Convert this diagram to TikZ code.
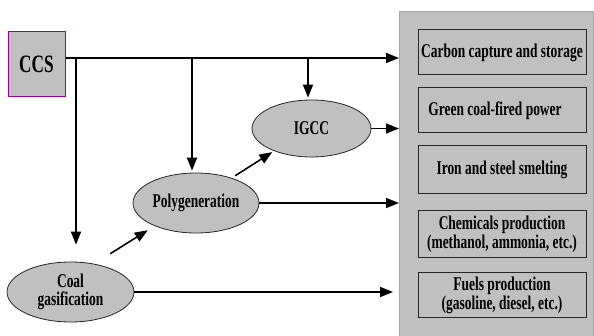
\documentclass[tikz,border=0pt]{standalone}
\usepackage{fontspec}
\newfontfamily\condfont{Liberation Serif}[FakeStretch=0.69]
\usetikzlibrary{shapes.geometric, arrows.meta, positioning}
\definecolor{panelgray}{HTML}{C0C0C0}
\definecolor{panelline}{HTML}{A4A4A4}
\definecolor{ccspurple}{HTML}{990099}
\tikzstyle{outcome} = [draw=black!85, fill=panelgray, rectangle, line width=1pt, minimum width=168pt, inner sep=0pt, align=center]
\tikzstyle{process} = [draw=black!85, fill=panelgray, ellipse, line width=0.8pt, inner sep=0pt, align=center]
\tikzstyle{flow} = [line width=1.6pt, -{Triangle[length=13pt,width=10pt]}]
\begin{document}
\begin{tikzpicture}[x=1pt, y=-1pt, font=\condfont\fontsize{19.5}{16}\selectfont\bfseries]
	\useasboundingbox (0,0) rectangle (594,336);
	% right-hand panel with the applications
	\node[draw=panelline, fill=panelgray, line width=0.8pt, minimum width=194pt, minimum height=330pt, inner sep=0pt, anchor=north west] (panel) at (399,11) {};
	\node[outcome, minimum height=45pt] (capture) at (502,52.5) {Carbon capture and storage};
	\node[outcome, minimum height=45pt] (power) at (502,110.5) {Green coal-fired power\hspace*{14pt}};
	\node[outcome, minimum height=48pt] (steel) at (502,170) {Iron and steel smelting};
	\node[outcome, minimum height=47pt] (chemicals) at (502,234.5) {Chemicals production\\(methanol, ammonia, etc.)};
	\node[outcome, minimum height=45pt] (fuels) at (502,295.5) {Fuels production\\(gasoline, diesel, etc.)};
	% technologies
	\node[draw=ccspurple, fill=panelgray, line width=1pt, minimum width=57pt, minimum height=65pt, inner sep=0pt, font=\condfont\fontsize{25}{25}\selectfont\bfseries] (ccs) at (36.5,64.5) {CCS};
	\node[process, minimum width=127pt, minimum height=60pt, font=\condfont\fontsize{19.5}{18}\selectfont\bfseries] (coal) at (70.5,292) {Coal\\gasification};
	\node[process, minimum width=126pt, minimum height=60pt] (poly) at (196,203) {Polygeneration};
	\node[process, minimum width=119pt, minimum height=57pt] (igcc) at (311.5,128.5) {IGCC};
	% CCS line and its branches
	\coordinate (ccsout) at ([yshift=6.5pt]ccs.east);
	\coordinate (tapcoal) at (76,58);
	\coordinate (tappoly) at (192,58);
	\coordinate (tapigcc) at (308,58);
	\draw[flow] (ccsout) -- (panel.west |- ccsout);
	\draw[flow, shorten >=17pt] (tapcoal) -- (tapcoal |- coal.north);
	\draw[flow, shorten >=2pt] (tappoly) -- (tappoly |- poly.north);
	\draw[flow, shorten >=2pt] (tapigcc) -- (tapigcc |- igcc.north);
	% links between technologies and to the panel
	\draw[flow, shorten <=19pt, shorten >=8pt] (coal.50) -- (poly.209);
	\draw[flow, shorten <=4pt, shorten >=2pt] (poly.35) -- (igcc.211);
	\draw[flow] (igcc.east) -- (panel.west |- igcc.east);
	\draw[flow] (poly.east) -- (panel.west |- poly.east);
	\draw[flow, shorten >=6pt] (coal.east) -- (panel.west |- coal.east);
\end{tikzpicture}
\end{document}
